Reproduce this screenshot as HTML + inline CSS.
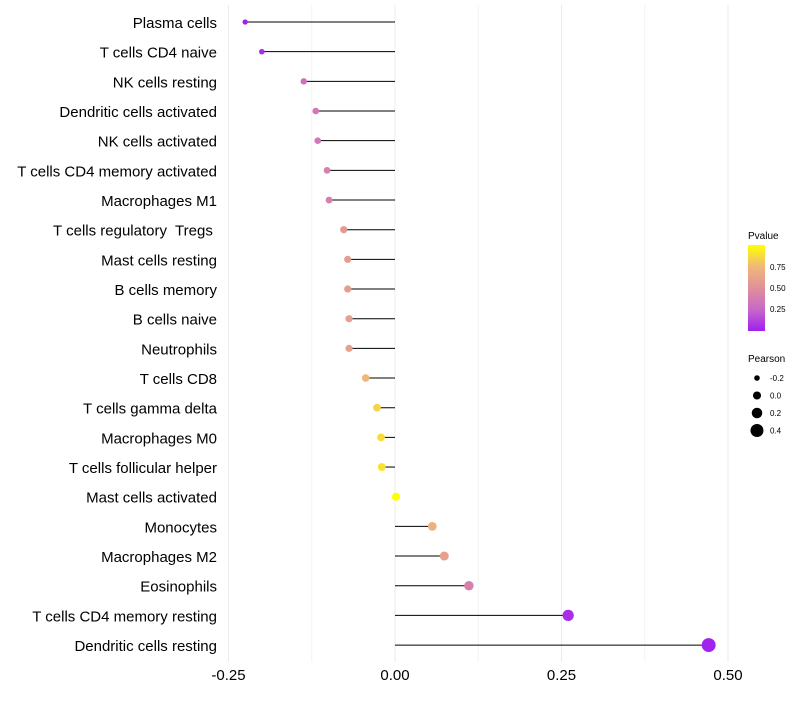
<!DOCTYPE html>
<html><head><meta charset="utf-8"><style>
body{margin:0;background:#fff;font-family:"Liberation Sans",sans-serif}
svg text{font-family:"Liberation Sans",sans-serif}
</style></head><body>
<svg id="chart" width="800" height="700">
<defs><linearGradient id="pg" x1="0" y1="1" x2="0" y2="0">
<stop offset="0" stop-color="#a020f0"/><stop offset="0.25" stop-color="#c868c8"/><stop offset="0.5" stop-color="#e0909a"/><stop offset="0.75" stop-color="#f0b878"/><stop offset="1" stop-color="#ffff00"/>
</linearGradient></defs>
<g id="grid"></g><g id="marks"></g><g id="labels"></g>
<g>
<text x="748" y="239" font-size="10">Pvalue</text>
<rect x="748" y="245" width="17" height="86" fill="url(#pg)"/>
<text x="770" y="270" font-size="8">0.75</text>
<text x="770" y="291" font-size="8">0.50</text>
<text x="770" y="312" font-size="8">0.25</text>
</g>
<g id="sizeleg">
<text x="748" y="362" font-size="10">Pearson</text>
</g>
</svg>
<script>
const categories=["Plasma cells","T cells CD4 naive","NK cells resting","Dendritic cells activated","NK cells activated","T cells CD4 memory activated","Macrophages M1","T cells regulatory  Tregs ","Mast cells resting","B cells memory","B cells naive","Neutrophils","T cells CD8","T cells gamma delta","Macrophages M0","T cells follicular helper","Mast cells activated","Monocytes","Macrophages M2","Eosinophils","T cells CD4 memory resting","Dendritic cells resting"];
const pearson=[-0.225,-0.2,-0.137,-0.119,-0.116,-0.102,-0.099,-0.077,-0.071,-0.071,-0.069,-0.069,-0.044,-0.027,-0.021,-0.02,0.0015,0.056,0.074,0.111,0.26,0.471];
const pvalue=[0.0,0.05,0.3,0.35,0.35,0.4,0.4,0.55,0.58,0.58,0.6,0.6,0.75,0.85,0.88,0.9,1.0,0.7,0.6,0.4,0.05,0.01];
const xTicks=[-0.25,0,0.25,0.5];
const xTickLabels=["-0.25","0.00","0.25","0.50"];
const sizeLegend=[-0.2,0,0.2,0.4];
const NS="http://www.w3.org/2000/svg";
const X=v=>395+v*666;
const Y=i=>22+i*29.67;
const R=v=>2.8+(v+0.2)*6.2;
const stops=[[0,[160,32,240]],[0.25,[200,104,200]],[0.5,[224,144,154]],[0.75,[240,184,120]],[1,[255,255,0]]];
function col(p){for(let i=1;i<stops.length;i++){if(p<=stops[i][0]){const a=stops[i-1],b=stops[i],t=(p-a[0])/(b[0]-a[0]);return "rgb("+a[1].map((c,k)=>Math.round(c+(b[1][k]-c)*t)).join(",")+")";}}return "rgb(255,255,0)";}
function mk(t,a,p){const e=document.createElementNS(NS,t);for(const k in a)e.setAttribute(k,a[k]);p.appendChild(e);return e;}
const grid=document.getElementById('grid'),marks=document.getElementById('marks'),labels=document.getElementById('labels');
for(let v=-0.25;v<=0.51;v+=0.125){const g=mk('line',{x1:X(v),x2:X(v),y1:5,y2:662,stroke:Math.abs((v/0.25)%1)<1e-6?'#ebebeb':'#f4f4f4','stroke-width':1},grid);}
categories.forEach((c,i)=>{
 const l=mk('line',{x1:X(0),x2:X(pearson[i]),y1:Y(i),y2:Y(i),stroke:'#000','stroke-width':1},marks);
 
 const d=mk('circle',{cx:X(pearson[i]),cy:Y(i),r:R(pearson[i]),fill:col(pvalue[i])},marks);
 
 const t=mk('text',{x:217,y:Y(i)+6,'text-anchor':'end','font-size':15,fill:'#000','xml:space':'preserve'},labels);t.textContent=c;
 t.style.whiteSpace='pre';
 
});
xTicks.forEach((v,i)=>{const t=mk('text',{x:X(v),y:680,'text-anchor':'middle','font-size':15},labels);t.textContent=xTickLabels[i];
 });
const sl=document.getElementById('sizeleg');
sizeLegend.forEach((v,i)=>{const y=378+i*17.5;
 const c=mk('circle',{cx:757,cy:y,r:R(v),fill:'#000'},sl);
 const t=mk('text',{x:770,y:y+3,'font-size':8},sl);t.textContent=v===0?"0.0":String(v);
 });
</script>
</body></html>
